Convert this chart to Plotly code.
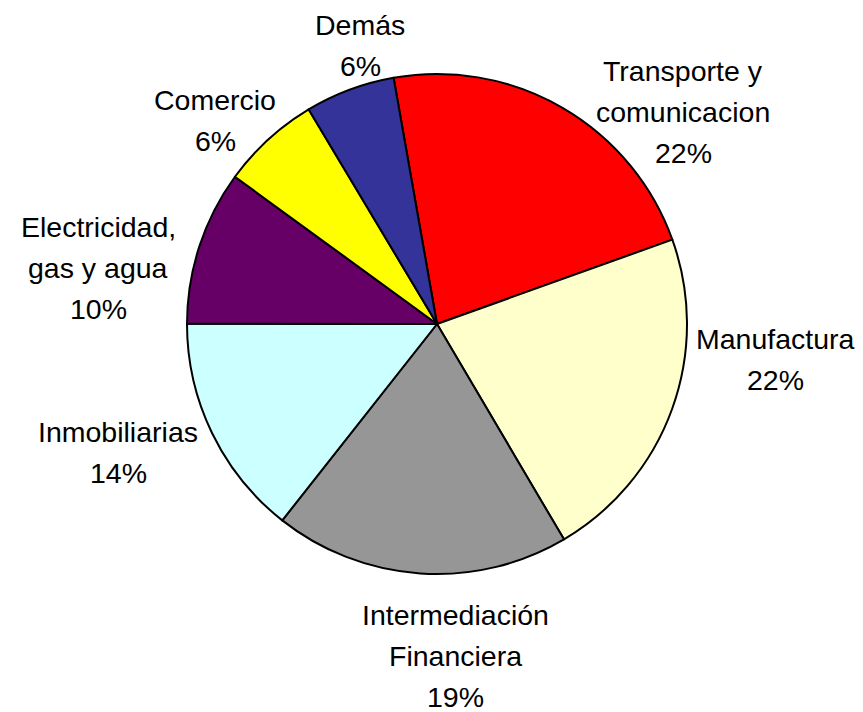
import plotly.graph_objects as go

labels = ["Transporte y<br>comunicacion", "Manufactura", "Intermediación<br>Financiera",
          "Inmobiliarias", "Electricidad,<br>gas y agua", "Comercio", "Demás"]
values = [22.3, 22.0, 19.1, 14.4, 10.0, 6.4, 5.8]
pct_text = ["22%", "22%", "19%", "14%", "10%", "6%", "6%"]
colors = ["#FF0000", "#FFFFCC", "#969696", "#CCFFFF", "#660066", "#FFFF00", "#333399"]
# label placement in the original chart: centre x and first-line y (page pixels)
label_px = [(683, 71), (775, 339), (455, 615), (118, 432), (98, 227), (215, 100), (360, 25)]

W, H = 863, 712
OFF = 8            # page body margin
LINE = 41          # label line spacing (px)
cx, cy, r = 437 - OFF, 324 - OFF, 250

fig = go.Figure(go.Pie(
    labels=labels, values=values, sort=False, direction="clockwise", rotation=-10,
    marker=dict(colors=colors, line=dict(color="black", width=2)),
    textinfo="none", showlegend=False, hoverinfo="label+percent",
    domain=dict(x=[(cx - r) / W, (cx + r) / W], y=[1 - (cy + r) / H, 1 - (cy - r) / H]),
))
for lab, pct, (px, py) in zip(labels, pct_text, label_px):
    lines = lab.split("<br>") + [pct]
    for i, ln in enumerate(lines):
        fx = px - OFF
        fy = py - OFF + i * LINE
        fig.add_annotation(x=fx / W, y=1 - fy / H, xref="paper", yref="paper",
                           text=ln, showarrow=False, xanchor="center", yanchor="middle",
                           font=dict(family="Liberation Sans, Arial", size=28.5, color="black"))
fig.update_layout(width=W, height=H, margin=dict(l=0, r=0, t=0, b=0),
                  paper_bgcolor="white", plot_bgcolor="white")
fig.write_html("out.html")
